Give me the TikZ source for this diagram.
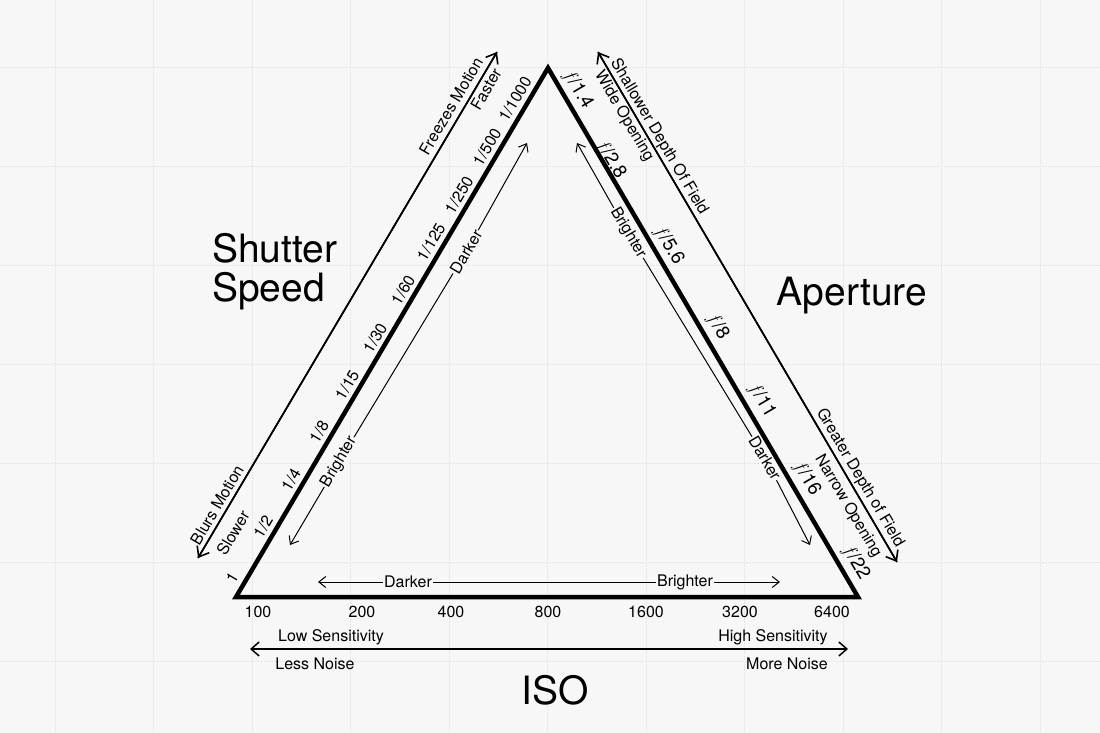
\documentclass[tikz,border=0pt]{standalone}
\usepackage{fontspec}
\setmainfont{TeX Gyre Heros}
\usetikzlibrary{arrows.meta}
\newcommand{\fn}[1]{{\fontspec{Latin Modern Roman}\itshape f}\,/#1}
\begin{document}
\begin{tikzpicture}[x=1pt,y=-1pt,
  lbl/.style={font=\fontsize{16}{18}\selectfont,inner sep=1pt},
  big/.style={font=\fontsize{39}{43}\selectfont,align=left,inner sep=0pt},
  arr/.style={-{Straight Barb[length=7pt,width=11pt]},line width=1pt},
  arrb/.style={{Straight Barb[length=8pt,width=14pt]}-{Straight Barb[length=8pt,width=14pt]},line width=1.5pt},
  outer/.style={-{Straight Barb[length=9pt,width=14pt]},line width=1.6pt}]
\useasboundingbox (0,0) rectangle (1100,733);
\fill[white!97!black] (0,0) rectangle (1100,733);
\foreach \i in {0,...,11} {\draw[white!90!black,densely dotted,line width=0.6pt] (55+98.5*\i-98.5,0) -- (55+98.5*\i-98.5,733);}
\foreach \j in {0,...,7} {\draw[white!90!black,densely dotted,line width=0.6pt] (0,67+99*\j-99) -- (1100,67+99*\j-99);}
% triangle
\coordinate (T) at (548,68); \coordinate (L) at (236,597); \coordinate (R) at (858,597);
\draw[line width=4.5pt,line join=miter] (T) -- (R) -- (L) -- cycle;
% outer arrows
\coordinate (o1) at (198,558); \coordinate (o2) at (497,52);
\draw[outer] (o1) -- (o2); \draw[outer] (o2) -- (o1);
\coordinate (o3) at (598,52); \coordinate (o4) at (897,562);
\draw[outer] (o3) -- (o4); \draw[outer] (o4) -- (o3);
% inner left
\coordinate (a1) at (290,545); \coordinate (a2) at (527,143);
\node[lbl,rotate=59.5,fill=white!97!black] (lb) at (339,462) {Brighter};
\node[lbl,rotate=59.5,fill=white!97!black] (ld) at (466,252) {Darker};
\draw[line width=1pt] (lb) -- (ld);
\draw[arr] (lb) -- (a1); \draw[arr] (ld) -- (a2);
% inner right
\coordinate (b1) at (577,143); \coordinate (b2) at (810,545);
\node[lbl,rotate=-59.5,fill=white!97!black] (rb) at (628,233) {Brighter};
\node[lbl,rotate=-59.5,fill=white!97!black] (rd) at (765,458) {Darker};
\draw[line width=1pt] (rb) -- (rd);
\draw[arr] (rb) -- (b1); \draw[arr] (rd) -- (b2);
% inner bottom
\coordinate (c1) at (318,582); \coordinate (c2) at (780,582);
\node[lbl,fill=white!97!black] (bd) at (408,582) {Darker};
\node[lbl,fill=white!97!black] (bb) at (685,582) {Brighter};
\draw[line width=1pt] (bd) -- (bb);
\draw[arr] (bd) -- (c1); \draw[arr] (bb) -- (c2);
% left scale
\foreach \t/\x/\y in {1/232/578,1\slash 2/263/527,1\slash 4/291/480,1\slash 8/319/432,1\slash 15/347/385,1\slash 30/375/338,1\slash 60/403/290,1\slash 125/431/242,1\slash 250/459/195,1\slash 500/487/147,1\slash 1000/515/99}
  \node[lbl,rotate=59.5] (s\x) at (\x,\y) {\t};
\node[lbl,rotate=59.5] (fm) at (451,106) {Freezes Motion};
\node[lbl,rotate=59.5] (fa) at (486,89) {Faster};
\node[lbl,rotate=59.5] (bm) at (217,505) {Blurs Motion};
\node[lbl,rotate=59.5] (sl) at (233,533) {Slower};
% right scale
\foreach \t/\x/\y in {1.4/578/90,2.8/611/160,5.6/669/246,8/718/327,11/762/401,16/807/479,22/856/563}
  \node[lbl,rotate=-59.5,font=\fontsize{19}{21}\selectfont] (f\x) at (\x,\y) {\fn{\t}};
\node[lbl,rotate=-59.5] (wo) at (624,116) {Wide Opening};
\node[lbl,rotate=-59.5] (sd) at (659,137) {Shallower Depth Of Field};
\node[lbl,rotate=-59.5] (gd) at (860,478) {Greater Depth of Field};
\node[lbl,rotate=-59.5] (no) at (848,506) {Narrow Opening};
% bottom scale
\foreach \t/\x in {100/258,200/362,400/451,800/548,1600/646,3200/740,6400/832}
  \node[lbl] (i\t) at (\x,612) {\t};
\coordinate (d1) at (250,649); \coordinate (d2) at (848,649);
\draw[arrb] (d1) -- (d2);
\node[lbl] (ls) at (331,637) {Low Sensitivity};
\node[lbl] (ln) at (315,664) {Less Noise};
\node[lbl] (hs) at (773,637) {High Sensitivity};
\node[lbl] (mn) at (787,664) {More Noise};
% titles
\node[big,anchor=west] (ss) at (212,272) {Shutter\\[-4pt]Speed};
\node[big] (ap) at (852,296) {Aperture};
\node[big] (iso) at (555,690) {ISO};
\end{tikzpicture}
\end{document}
